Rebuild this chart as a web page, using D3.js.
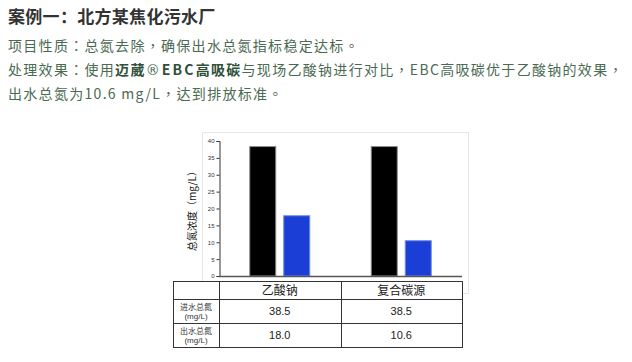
<!DOCTYPE html>
<html>
<head>
<meta charset="utf-8">
<script src="https://cdn.jsdelivr.net/npm/d3@7"></script>
<style>
  html, body { margin: 0; padding: 0; background: #fff; }
  svg { display: block; }
</style>
</head>
<body>
<svg id="chart" width="632" height="362"></svg>
<script>
// Carbon source comparison: total nitrogen in/out
const categories = ["乙酸钠", "复合碳源"];
const seriesKeys = ["influent", "effluent"];
const influentTN = [38.5, 38.5];
const effluentTN = [18.0, 10.6];
const yTicks = [0, 5, 10, 15, 20, 25, 30, 35, 40];
const rowLabels = [["进水总氮", "(mg/L)"], ["出水总氮", "(mg/L)"]];
const yTitle = "总氮浓度（mg/L）";

const svg = d3.select("#chart");
const cjk = "'Noto Sans CJK SC', 'Noto Sans', sans-serif";
const cjkBody = "'Noto Sans CJK TC', 'Noto Sans', sans-serif";
const plainFont = "'Liberation Sans', Arial, sans-serif";

// ---- header text block ----
const green = "#4b6a52";
svg.append("text").attr("x", 8).attr("y", 23)
  .attr("font-family", cjk).attr("font-size", 17).attr("font-weight", "bold")
  .attr("fill", "#333").attr("letter-spacing", 0.3)
  .text("案例一：北方某焦化污水厂");

function para(y, parts) {
  const t = svg.append("text").attr("x", 8).attr("y", y)
    .attr("font-family", cjkBody).attr("font-size", 14).attr("letter-spacing", 1.3)
    .attr("fill", green);
  parts.forEach(p => {
    const s = t.append("tspan").attr("font-weight", p.b ? "bold" : "normal")
      .attr("fill", p.b ? "#2f4f38" : green).text(p.t);
    if (p.f) s.attr("font-family", p.f);
    if (p.ls != null) s.attr("letter-spacing", p.ls);
  });
}
para(51, [{t: "项目性质：总氮去除，确保出水总氮指标稳定达标。"}]);
para(75, [{t: "处理效果：使用"}, {t: "迈葳", b: true},
          {t: "®", b: false, f: "'DejaVu Sans', sans-serif", ls: 2},
          {t: "EBC", b: true, ls: 2.2},
          {t: "高吸碳", b: true},
          {t: "与现场乙酸钠进行对比，EBC高吸碳优于乙酸钠的效果，"}]);
para(99, [{t: "出水总氮为10.6 mg/L，达到排放标准。"}]);

// ---- chart ----
const plot = {left: 219, right: 462, top: 141, bottom: 276};

// light frame around the chart area
svg.append("rect").attr("x", 202.5).attr("y", 132.5).attr("width", 266).attr("height", 161)
  .attr("fill", "none").attr("stroke", "#e6e6e6");

const y = d3.scaleLinear().domain([0, 40]).range([plot.bottom, plot.top]);
const x0 = d3.scaleBand().domain(categories).range([plot.left, plot.right]);
const x1 = d3.scaleBand().domain(seriesKeys).range([0, x0.bandwidth()])
  .paddingInner(0.206).paddingOuter(0.89);

const rows = categories.map((c, i) => ({cat: c, influent: influentTN[i], effluent: effluentTN[i]}));
const fills = {influent: "#000000", effluent: "#1a3ed6"};
const strokes = {influent: "#8a8a8a", effluent: "#6e8ae8"};

const g = svg.append("g");
rows.forEach(r => {
  seriesKeys.forEach(k => {
    g.append("rect")
      .attr("x", x0(r.cat) + x1(k) + 0.5)
      .attr("y", y(r[k]) + 0.5)
      .attr("width", x1.bandwidth() - 1)
      .attr("height", y(0) - y(r[k]) - 0.5)
      .attr("fill", fills[k])
      .attr("stroke", strokes[k]).attr("stroke-width", 1);
  });
});

// y axis
const yAxis = d3.axisLeft(y).tickValues(yTicks).tickSize(3).tickPadding(2);
const ya = svg.append("g").attr("transform", `translate(${plot.left + 0.5},0)`).call(yAxis);
ya.select(".domain").attr("stroke", "#333");
ya.selectAll(".tick line").attr("stroke", "#333");
ya.selectAll("text").attr("font-family", plainFont).attr("font-size", 6).attr("fill", "#333");

// x baseline
svg.append("line").attr("x1", plot.left).attr("x2", plot.right)
  .attr("y1", y(0) + 0.5).attr("y2", y(0) + 0.5)
  .attr("stroke", "#555").attr("stroke-width", 1.5);

// y title
svg.append("text")
  .attr("transform", `translate(196,${(plot.top + plot.bottom) / 2}) rotate(-90)`)
  .attr("text-anchor", "middle")
  .attr("font-family", cjk).attr("font-size", 10).attr("fill", "#111")
  .text(yTitle);

// ---- data table ----
const tLeft = 173, tTop = 281;
const rowEdges = [281, 299, 323, 347];
const colEdges = [tLeft, x0(categories[0]), x0(categories[1]), x0(categories[1]) + x0.bandwidth()];
const tg = svg.append("g");
tg.append("rect").attr("x", tLeft + 0.5).attr("y", tTop + 0.5)
  .attr("width", colEdges[3] - tLeft).attr("height", rowEdges[3] - tTop)
  .attr("fill", "#fff").attr("stroke", "#333");
rowEdges.slice(1, 3).forEach(ry => {
  tg.append("line").attr("x1", tLeft).attr("x2", colEdges[3])
    .attr("y1", ry + 0.5).attr("y2", ry + 0.5).attr("stroke", "#333");
});
colEdges.slice(1, 3).forEach(cx => {
  tg.append("line").attr("x1", Math.round(cx) + 0.5).attr("x2", Math.round(cx) + 0.5)
    .attr("y1", tTop).attr("y2", rowEdges[3]).attr("stroke", "#333");
});
// header
categories.forEach(c => {
  tg.append("text").attr("x", x0(c) + x0.bandwidth() / 2).attr("y", (rowEdges[0] + rowEdges[1]) / 2 + 4.5)
    .attr("text-anchor", "middle").attr("font-family", cjk).attr("font-size", 12).attr("fill", "#222")
    .text(c);
});
const tableVals = [influentTN, effluentTN];
tableVals.forEach((vals, ri) => {
  const cy = (rowEdges[ri + 1] + rowEdges[ri + 2]) / 2;
  const lbl = tg.append("text").attr("text-anchor", "middle")
    .attr("font-family", cjk).attr("font-size", 8).attr("fill", "#333");
  lbl.append("tspan").attr("x", (colEdges[0] + colEdges[1]) / 2).attr("y", cy - 1.5).text(rowLabels[ri][0]);
  lbl.append("tspan").attr("x", (colEdges[0] + colEdges[1]) / 2).attr("y", cy + 7.5).attr("font-family", plainFont).text(rowLabels[ri][1]);
  vals.forEach((v, ci) => {
    tg.append("text").attr("x", x0(categories[ci]) + x0.bandwidth() / 2).attr("y", cy + 4)
      .attr("text-anchor", "middle").attr("font-family", plainFont).attr("font-size", 11).attr("fill", "#222")
      .text(v.toFixed(1));
  });
});
</script>
</body>
</html>
